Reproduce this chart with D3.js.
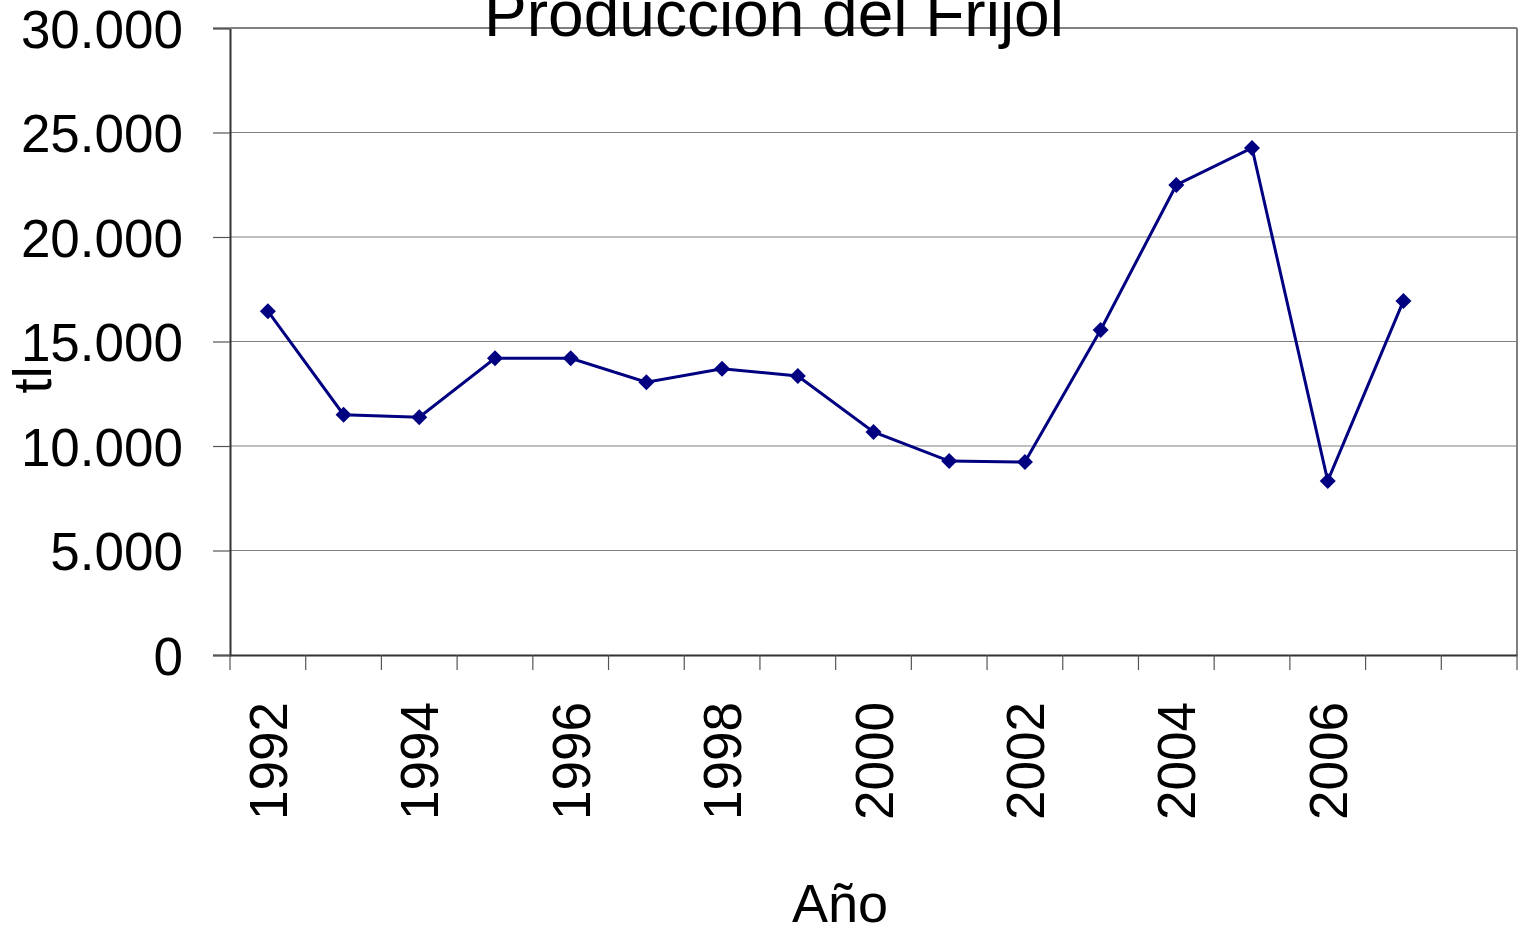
<!DOCTYPE html>
<html>
<head>
<meta charset="utf-8">
<script src="https://cdn.jsdelivr.net/npm/d3@7"></script>
<style>
  body { margin: 0; background: #fff; }
  svg { display: block; font-family: "Liberation Sans", Arial, sans-serif; }
</style>
</head>
<body>
<div id="chart"></div>
<script>
const years = ["1992", "1993", "1994", "1995", "1996", "1997", "1998", "1999", "2000",
    "2001", "2002", "2003", "2004", "2005", "2006", "2007", ""];
const produccion = [16450, 11500, 11380, 14200, 14200, 13050, 13700, 13350, 10670,
    9280, 9230, 15550, 22490, 24260, 8330, 16940];
const yTicks = [0, 5000, 10000, 15000, 20000, 25000, 30000];
const tickLabels = ["1992", "1994", "1996", "1998", "2000", "2002", "2004", "2006"];

const width = 1522;
const height = 938;
const plotLeft = 230, plotRight = 1517, plotTop = 28, plotBottom = 655;

const svg = d3.select("#chart")
    .append("svg")
    .attr("width", width)
    .attr("height", height);

const x = d3.scaleBand()
    .domain(years)
    .range([plotLeft, plotRight]);

const y = d3.scaleLinear()
    .domain([0, 30000])
    .range([plotBottom, plotTop]);

const fmt = d => d === 0 ? "0" : d3.format(",")(d).replace(/,/g, ".");

// gridlines
svg.append("g")
    .selectAll("line")
    .data(yTicks.filter(d => d > 0))
    .join("line")
    .attr("x1", plotLeft)
    .attr("x2", plotRight)
    .attr("y1", d => y(d))
    .attr("y2", d => y(d))
    .attr("stroke", "#808080")
    .attr("stroke-width", 1.2);

// right border
svg.append("line")
    .attr("x1", plotRight).attr("x2", plotRight)
    .attr("y1", plotTop).attr("y2", plotBottom)
    .attr("stroke", "#808080")
    .attr("stroke-width", 2);

// y axis
const yAxis = svg.append("g")
    .attr("transform", `translate(${plotLeft},0)`)
    .call(d3.axisLeft(y).tickValues(yTicks).tickSize(17).tickPadding(30).tickFormat(fmt));
yAxis.select(".domain").attr("stroke", "#333").attr("stroke-width", 2);
yAxis.selectAll(".tick line").attr("stroke", "#555").attr("stroke-width", 1.2);
yAxis.selectAll(".tick text")
    .attr("font-size", "53px")
    .attr("fill", "#000")
    .attr("font-family", "Liberation Sans, Arial, sans-serif")
    .attr("dy", "0.36em");

// x axis
const xAxis = svg.append("g")
    .attr("transform", `translate(0,${plotBottom})`)
    .call(d3.axisBottom(x).tickSize(0).tickFormat(""));
xAxis.select(".domain").attr("stroke", "#333").attr("stroke-width", 2);

// tick marks at band edges
const edges = years.map(d => x(d)).concat([plotRight]);
svg.append("g")
    .selectAll("line")
    .data(edges)
    .join("line")
    .attr("x1", d => d)
    .attr("x2", d => d)
    .attr("y1", plotBottom)
    .attr("y2", plotBottom + 15)
    .attr("stroke", "#555")
    .attr("stroke-width", 1.2);

// x labels (rotated)
svg.append("g")
    .selectAll("text")
    .data(tickLabels)
    .join("text")
    .attr("transform", d => `translate(${x(d) + x.bandwidth() / 2 + 19},${plotBottom + 47}) rotate(-90)`)
    .attr("text-anchor", "end")
    .attr("font-size", "53px")
    .attr("fill", "#000")
    .text(d => d);

// line
const line = d3.line()
    .x((d, i) => x(years[i]) + x.bandwidth() / 2)
    .y(d => y(d));

svg.append("path")
    .datum(produccion)
    .attr("fill", "none")
    .attr("stroke", "#000080")
    .attr("stroke-width", 3)
    .attr("d", line);

// diamond markers
svg.append("g")
    .selectAll("path")
    .data(produccion)
    .join("path")
    .attr("transform", (d, i) => `translate(${x(years[i]) + x.bandwidth() / 2},${y(d)})`)
    .attr("d", "M0,-8L8,0L0,8L-8,0Z")
    .attr("fill", "#000080");

// top border
svg.append("line")
    .attr("x1", plotLeft).attr("x2", plotRight)
    .attr("y1", plotTop).attr("y2", plotTop)
    .attr("stroke", "#808080")
    .attr("stroke-width", 2);

// title
svg.append("text")
    .attr("x", 774)
    .attr("y", 36)
    .attr("text-anchor", "middle")
    .attr("font-size", "64px")
    .attr("fill", "#000")
    .text("Produccion del Frijol");

// axis titles
svg.append("text")
    .attr("x", 840)
    .attr("y", 922)
    .attr("text-anchor", "middle")
    .attr("font-size", "54px")
    .attr("fill", "#000")
    .text("Año");

svg.append("text")
    .attr("transform", "translate(51,380) rotate(-90)")
    .attr("text-anchor", "middle")
    .attr("font-size", "54px")
    .attr("fill", "#000")
    .text("tl");
</script>
</body>
</html>
